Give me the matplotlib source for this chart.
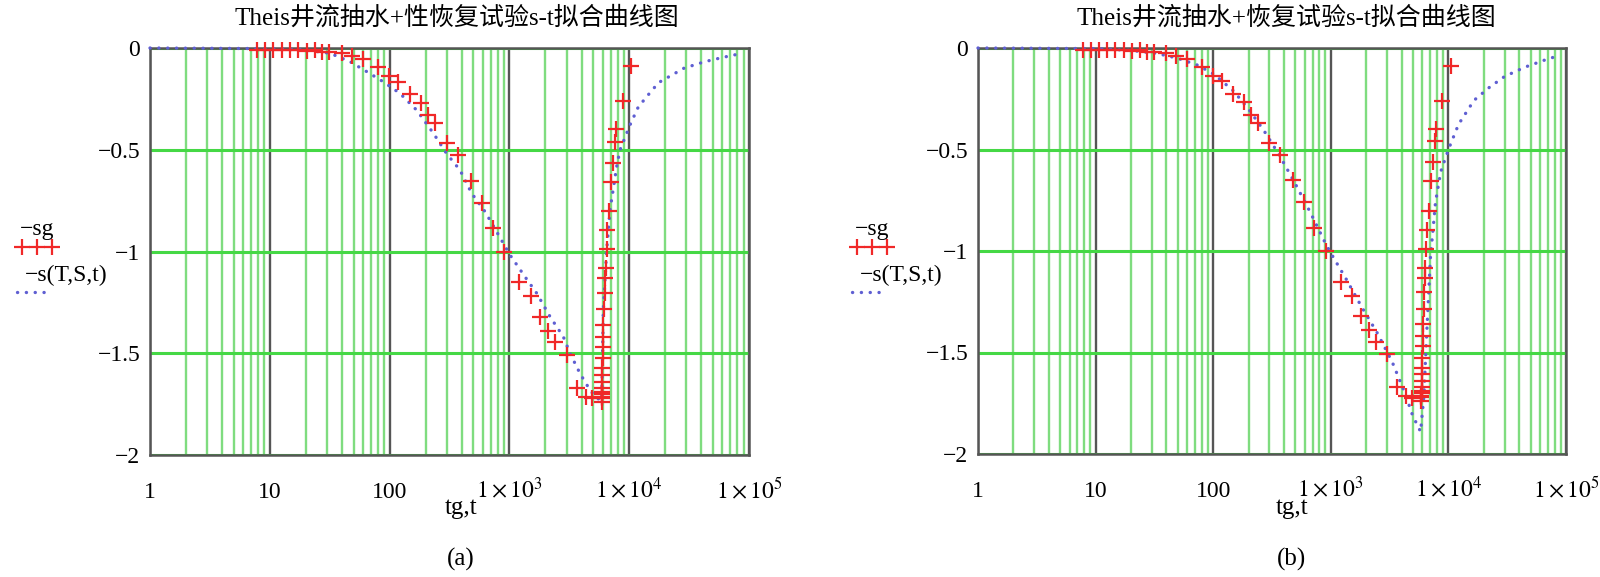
import numpy as np
import matplotlib.pyplot as plt
from matplotlib.ticker import LogLocator, FixedLocator, NullFormatter
from matplotlib.lines import Line2D

plt.rcParams['font.family'] = ['Liberation Serif', 'Noto Sans CJK SC', 'DejaVu Sans']
plt.rcParams['mathtext.fontset'] = 'stix'

# ---- observed drawdown (pumping + recovery), same in both panels ----
tg = [7.8, 9.1, 10.7, 12.6, 14.7, 17.3, 20.3, 23.8, 27.1, 31.5, 39.8, 48.3, 60.4,
      80.5, 99.5, 118, 148, 182, 210, 239, 300, 372, 480, 590, 725, 910, 1210,
      1510, 1810, 2120, 2400, 3020, 3650, 4330, 4880,
      5880, 5900, 5910, 5920, 5900,
      5920, 5930, 5950, 5970, 6000, 6030, 6060, 6090, 6150, 6250, 6330, 6370,
      6490, 6560, 6780, 7050, 7370, 7620, 7780, 8830, 10440]
sg = [0.010, 0.012, 0.012, 0.012, 0.012, 0.010, 0.015, 0.012, 0.018, 0.020, 0.026,
      0.039, 0.056, 0.092, 0.137, 0.165, 0.227, 0.268, 0.329, 0.370, 0.468, 0.528,
      0.652, 0.761, 0.886, 1.002, 1.152, 1.221, 1.322, 1.390, 1.446, 1.508, 1.670,
      1.716, 1.722,
      1.720, 1.713, 1.700, 1.690, 1.740,
      1.672, 1.640, 1.607, 1.574, 1.525, 1.468, 1.419, 1.361, 1.284, 1.202, 1.132,
      1.083, 0.988, 0.895, 0.801, 0.657, 0.564, 0.460, 0.400, 0.260, 0.090]

# ---- fitted Theis curves ----
t_a = [1, 10, 20, 31.8, 46.7, 64.4, 88.6, 122, 168, 232, 300, 387, 484, 626, 783,
       1012, 1349, 1690, 2183, 2820, 3205, 3882, 4707, 5355, 5900, 6080, 6490,
       6920, 7860, 8380, 10160, 11900, 14900, 17600, 28700, 42900, 60700, 87500]
s_a = [0, 0.003, 0.010, 0.026, 0.067, 0.116, 0.166, 0.223, 0.305, 0.419, 0.520,
       0.600, 0.714, 0.804, 0.903, 1.017, 1.124, 1.205, 1.320, 1.419, 1.500, 1.599,
       1.681, 1.721, 1.730, 1.288, 0.993, 0.796, 0.583, 0.501, 0.378, 0.290, 0.220,
       0.170, 0.099, 0.067, 0.046, 0.026]

t_b = [1, 10, 20, 33.2, 49.6, 74.1, 102, 149, 201, 272, 367, 496, 670, 905, 1000,
       1350, 1823, 2462, 3325, 4270, 4960, 5800, 6180, 6560, 7040, 7780, 8600,
       10000, 12200, 16500, 22300, 30100, 44900, 67000, 90500]
s_b = [0, 0.003, 0.012, 0.027, 0.050, 0.085, 0.130, 0.212, 0.303, 0.410, 0.530,
       0.666, 0.810, 0.965, 1.010, 1.138, 1.274, 1.400, 1.546, 1.700, 1.810, 1.890,
       1.720, 1.390, 1.030, 0.757, 0.610, 0.500, 0.376, 0.258, 0.194, 0.140, 0.094,
       0.058, 0.034]

titles = ['Theis井流抽水+性恢复试验s-t拟合曲线图', 'Theis井流抽水+恢复试验s-t拟合曲线图']
captions = ['(a)', '(b)']
xticks = [1, 10, 100, 1e3, 1e4, 1e5]
xtick_labels = ['1', '10', '100', r'$1\times10^{3}$', r'$1\times10^{4}$', r'$1\times10^{5}$']
yticks = [0, -0.5, -1, -1.5, -2]
ytick_labels = ['0', '\u22120.5', '\u22121', '\u22121.5', '\u22122']

RED = '#f02828'
BLUE = '#5f5fd2'
GREEN_MINOR = '#7fdc7f'
GREEN_MAJOR = '#45d845'
GRAY = '#555555'
DOTS = (0, (0.05, 2.6))

W, H = 1600, 577
fig = plt.figure(figsize=(16, 5.77), dpi=100)

boxes = [(150, 455, 749, 48), (978, 454, 1566, 48)]  # left, bottom, right, top (px)
curves = [(t_a, s_a), (t_b, s_b)]
title_x = [457, 1286]
label_x = [461, 1292]
legend_dx = [0, 835]

for i in range(2):
    l, b, r, t = boxes[i]
    ax = fig.add_axes([l / W, 1 - b / H, (r - l) / W, (b - t) / H])
    tc, sc = curves[i]
    ax.plot(tc, -np.array(sc), color=BLUE, lw=2.4, ls=DOTS,
            dash_capstyle='round', clip_on=False, zorder=3)
    ax.plot(tg, -np.array(sg), ls='none', marker='+', ms=11, mew=1.6,
            color=RED, clip_on=False, zorder=4)

    ax.set_xscale('log')
    ax.set_xlim(1, 1e5)
    ax.set_ylim(-2, 0)
    ax.xaxis.set_major_locator(FixedLocator(xticks))
    ax.xaxis.set_minor_locator(LogLocator(base=10, subs=np.arange(2, 10), numticks=20))
    ax.xaxis.set_minor_formatter(NullFormatter())
    ax.set_xticklabels(xtick_labels)
    ax.set_yticks(yticks)
    ax.set_yticklabels(ytick_labels)
    ax.grid(which='minor', axis='x', color=GREEN_MINOR, lw=1.7)
    ax.grid(which='major', axis='x', color=GRAY, lw=1.7)
    ax.grid(which='major', axis='y', color=GREEN_MAJOR, lw=2.2)
    ax.set_axisbelow(True)
    for sp in ax.spines.values():
        sp.set_color(GRAY)
        sp.set_linewidth(1.8)
    ax.tick_params(which='both', length=0)
    ax.tick_params(axis='x', labelsize=17, pad=31)
    ax.tick_params(axis='y', labelsize=17, pad=7)
    for lab in ax.get_xticklabels():
        lab.set_verticalalignment('baseline')

    fig.text(title_x[i] / W, 1 - 18 / H, titles[i], ha='center', va='center', fontsize=18)
    fig.text(label_x[i] / W, 1 - 508 / H, 'tg,t', ha='center', va='center', fontsize=18)
    fig.text(label_x[i] / W, 1 - 559 / H, captions[i], ha='center', va='center', fontsize=18)

    # mathcad style legend at the left of each panel
    dx = legend_dx[i]
    fig.text((20 + dx) / W, 1 - 230 / H, '\u2212sg', ha='left', va='center', fontsize=17)
    fig.add_artist(Line2D([(22 + dx) / W, (37 + dx) / W, (52 + dx) / W], [1 - 247 / H] * 3,
                          ls='none', marker='+', ms=11, mew=1.6, color=RED))
    fig.text((25 + dx) / W, 1 - 275 / H, '\u2212s(T,S,t)', ha='left', va='center', fontsize=17)
    fig.add_artist(Line2D([(17 + dx) / W, (52 + dx) / W], [1 - 292 / H] * 2,
                          color=BLUE, lw=2.4, ls=DOTS, dash_capstyle='round'))

fig.savefig('out.png', dpi=100)
